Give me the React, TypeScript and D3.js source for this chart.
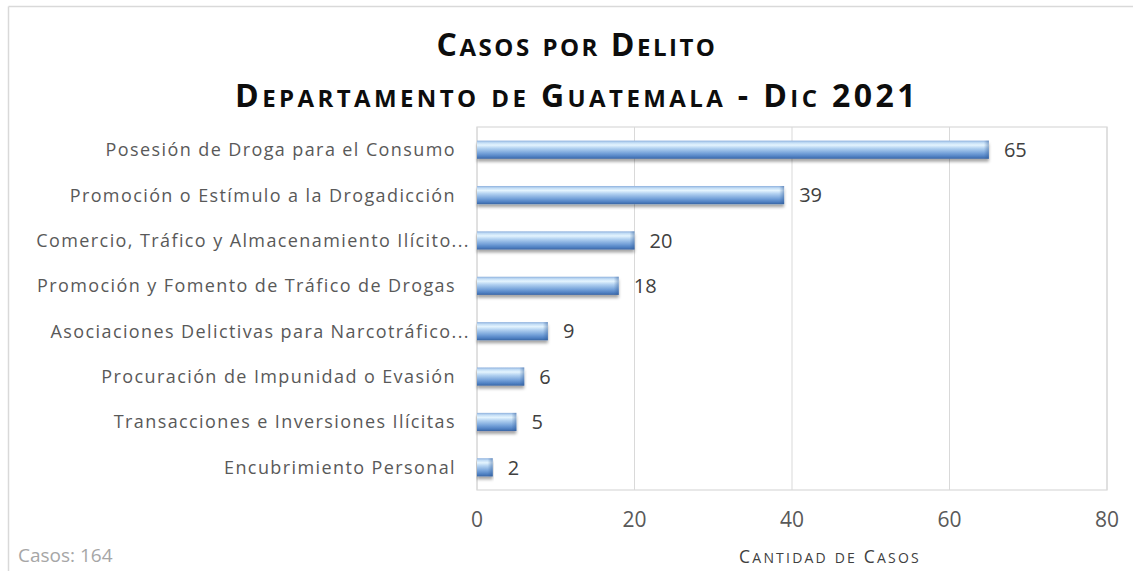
import React from "react";
import * as d3 from "d3";

const categories = [
  "Posesión de Droga para el Consumo",
  "Promoción o Estímulo a la Drogadicción",
  "Comercio, Tráfico y Almacenamiento Ilícito...",
  "Promoción y Fomento de Tráfico de Drogas",
  "Asociaciones Delictivas para Narcotráfico...",
  "Procuración de Impunidad o Evasión",
  "Transacciones e Inversiones Ilícitas",
  "Encubrimiento Personal",
];
const values = [65, 39, 20, 18, 9, 6, 5, 2];
const xTicks = [0, 20, 40, 60, 80];
const titleLine1 = "Casos por Delito";
const titleLine2 = "Departamento de Guatemala - Dic 2021";
const xAxisTitle = "Cantidad de Casos";
const footnote = "Casos: 164";

const W = 1133;
const H = 571;
const plot = { left: 477, right: 1107, top: 127, bottom: 490 };
const FONT = "'Open Sans', 'Noto Sans', sans-serif";

function smallCaps(text: string, big: number, small: number) {
  const parts = text.match(/[a-záéíóúñ]+|[^a-záéíóúñ]+/g) || [];
  return parts.map((p, i) =>
    /[a-záéíóúñ]/.test(p[0]) ? (
      <tspan key={i} fontSize={small}>{p.toUpperCase()}</tspan>
    ) : (
      <tspan key={i} fontSize={big}>{p}</tspan>
    )
  );
}

export default function App() {
  const x = d3.scaleLinear().domain([0, 80]).range([plot.left, plot.right]);
  const y = d3
    .scaleBand<string>()
    .domain(categories)
    .range([plot.top, plot.bottom])
    .paddingInner(0.6)
    .paddingOuter(0.3);
  const bw = y.bandwidth();

  return (
    <div style={{ position: "absolute", left: 0, top: 0 }}>
      <svg width={W} height={H} style={{ display: "block", background: "#fff" }}>
        <defs>
          <linearGradient id="barGrad" x1="0" y1="0" x2="0" y2="1">
            <stop offset="0" stopColor="#8db0dd" />
            <stop offset="0.12" stopColor="#c4def6" />
            <stop offset="0.25" stopColor="#e4f4fe" />
            <stop offset="0.42" stopColor="#b3d2f1" />
            <stop offset="0.7" stopColor="#74a1d9" />
            <stop offset="0.88" stopColor="#4f80c2" />
            <stop offset="1" stopColor="#3a66a5" />
          </linearGradient>
          <linearGradient id="endGrad" x1="0" y1="0" x2="1" y2="0">
            <stop offset="0" stopColor="#2f5a96" stopOpacity="0" />
            <stop offset="1" stopColor="#2f5a96" stopOpacity="0.45" />
          </linearGradient>
          <filter id="shadow" x="-5%" y="-40%" width="110%" height="200%">
            <feDropShadow dx="0" dy="3" stdDeviation="1.8" floodColor="#000" floodOpacity="0.35" />
          </filter>
        </defs>

        {/* chart frame */}
        <line x1={8.5} y1={6.5} x2={W} y2={6.5} stroke="#d9d9d9" strokeWidth={1.5} />
        <line x1={8.5} y1={6.5} x2={8.5} y2={H} stroke="#d9d9d9" strokeWidth={1.5} />

        {/* title */}
        <text x={577} y={56} textAnchor="middle" fontFamily={FONT} fontWeight={700} fill="#0d0d0d" letterSpacing={2.5}>
          {smallCaps(titleLine1, 32, 24)}
        </text>
        <text x={577} y={107} textAnchor="middle" fontFamily={FONT} fontWeight={700} fill="#0d0d0d" letterSpacing={3.4}>
          {smallCaps(titleLine2, 32, 24)}
        </text>

        {/* gridlines */}
        {xTicks.map((t) => (
          <line key={t} x1={x(t)} x2={x(t)} y1={plot.top} y2={plot.bottom} stroke="#d9d9d9" strokeWidth={1} />
        ))}
        <rect
          x={plot.left}
          y={plot.top}
          width={plot.right - plot.left}
          height={plot.bottom - plot.top}
          fill="none"
          stroke="#d9d9d9"
          strokeWidth={1.2}
        />

        {/* bars */}
        {categories.map((c, i) => {
          const y0 = y(c)!;
          const x1 = x(values[i]);
          const w = x1 - x(0);
          return (
            <g key={c}>
              <rect x={x(0)} y={y0} width={w} height={bw} fill="url(#barGrad)" filter="url(#shadow)" />
              <rect x={x1 - Math.min(5, w / 2)} y={y0} width={Math.min(5, w / 2)} height={bw} fill="url(#endGrad)" />
              <text
                x={x1 + 15}
                y={y0 + bw / 2}
                dy="0.36em"
                fontFamily={FONT}
                fontSize={20}
                fill="#404040"
              >
                {values[i]}
              </text>
              <text
                x={c.endsWith("...") ? 470 : 456}
                y={y0 + bw / 2}
                dy="0.36em"
                textAnchor="end"
                fontFamily={FONT}
                fontSize={18}
                letterSpacing={1.4}
                fill="#595959"
              >
                {c}
              </text>
            </g>
          );
        })}

        {/* x tick labels */}
        {xTicks.map((t) => (
          <text key={t} x={x(t)} y={527} textAnchor="middle" fontFamily={FONT} fontSize={21} fill="#595959">
            {t}
          </text>
        ))}

        {/* axis title */}
        <text x={830} y={563} textAnchor="middle" fontFamily={FONT} fill="#404040" letterSpacing={2.2}>
          {smallCaps(xAxisTitle, 17.5, 14)}
        </text>

        {/* footnote */}
        <text x={18} y={562} fontFamily={FONT} fontSize={19} fill="#a6a6a6">
          {footnote}
        </text>
      </svg>
    </div>
  );
}
